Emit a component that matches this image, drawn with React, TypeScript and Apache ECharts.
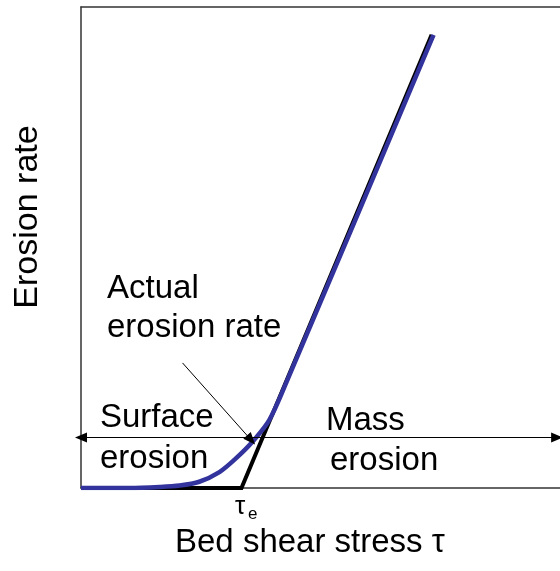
import React, { useEffect, useRef } from "react";
import * as echarts from "echarts";

// Idealised (threshold) erosion-rate line
const idealX = [0, 33.5, 73.2];
const idealY = [0, 0, 94.2];
// Actual erosion-rate curve
const actualX = [0, 10, 16.4, 20.6, 24.7, 28.9, 32.4, 35.8, 39.3, 42.9, 73.6];
const actualY = [0, 0, 0.2, 0.5, 1.3, 3.3, 6.2, 9.6, 14.1, 22.0, 94.2];
// Boundary between surface and mass erosion
const boundaryY = 10.5;
const boundaryFromX = 0;
const boundaryToX = 99.4;
// Pointer to actual erosion rate
const pointerFrom = [21.2, 26.0];
const pointerTo = [35.5, 10.0];

const FONT = "'Liberation Sans', Arial, sans-serif";

export default function App() {
  const ref = useRef<HTMLDivElement>(null);
  useEffect(() => {
    if (!ref.current) return;
    const chart = echarts.init(ref.current, undefined, { renderer: "svg" });
    const fs = 33;
    const txt = (text: string, x: number, baseline: number, size = fs, extra: any = {}) => ({
      type: "text",
      x,
      y: baseline - size * 0.3465,
      style: { text, fill: "#000", font: `${size}px ${FONT}`, align: "left", verticalAlign: "middle" },
      ...extra,
    });
    const axisBase = {
      type: "value",
      min: 0,
      max: 100,
      axisLine: { show: true, onZero: false, lineStyle: { color: "#333", width: 1.5 } },
      axisTick: { show: false },
      axisLabel: { show: false },
      splitLine: { show: false },
    };
    chart.setOption({
      animation: false,
      grid: { left: 81, top: 7, width: 481, height: 481, show: false },
      xAxis: [
        { ...axisBase, position: "bottom" },
        { ...axisBase, position: "top" },
      ],
      yAxis: { ...axisBase, position: "left" },
      series: [
        {
          type: "line",
          data: idealX.map((x, i) => [x, idealY[i]]),
          symbol: "none",
          lineStyle: { color: "#000", width: 4, join: "miter" },
          silent: true,
          markLine: {
            silent: true,
            symbol: ["triangle", "triangle"],
            symbolSize: [10, 12],
            label: { show: false },
            lineStyle: { color: "#000", width: 1, type: "solid" },
            data: [
              [{ coord: [boundaryFromX, boundaryY] }, { coord: [boundaryToX, boundaryY] }],
              [{ coord: pointerFrom, symbol: "none" }, { coord: pointerTo }],
            ],
          },
        },
        {
          type: "line",
          data: actualX.map((x, i) => [x, actualY[i]]),
          symbol: "none",
          smooth: 0.3,
          lineStyle: { color: "#33339d", width: 4.5 },
          silent: true,
        },
      ],
      graphic: [
        {
          type: "text",
          x: 25,
          y: 217,
          rotation: Math.PI / 2,
          style: { text: "Erosion rate", fill: "#000", font: `34px ${FONT}`, align: "center", verticalAlign: "middle" },
        },
        txt("Bed shear stress τ", 175, 552),
        txt("Actual", 107, 298),
        txt("erosion rate", 107, 337),
        txt("Surface", 100, 427),
        txt("erosion", 100, 468),
        txt("Mass", 326, 430),
        txt("erosion", 330, 470),
        txt("τ", 235, 514, 26),
        txt("e", 248, 519, 17),
      ],
    });
    return () => chart.dispose();
  }, []);
  return <div ref={ref} style={{ position: "fixed", left: 0, top: 0, width: 560, height: 571 }} />;
}
